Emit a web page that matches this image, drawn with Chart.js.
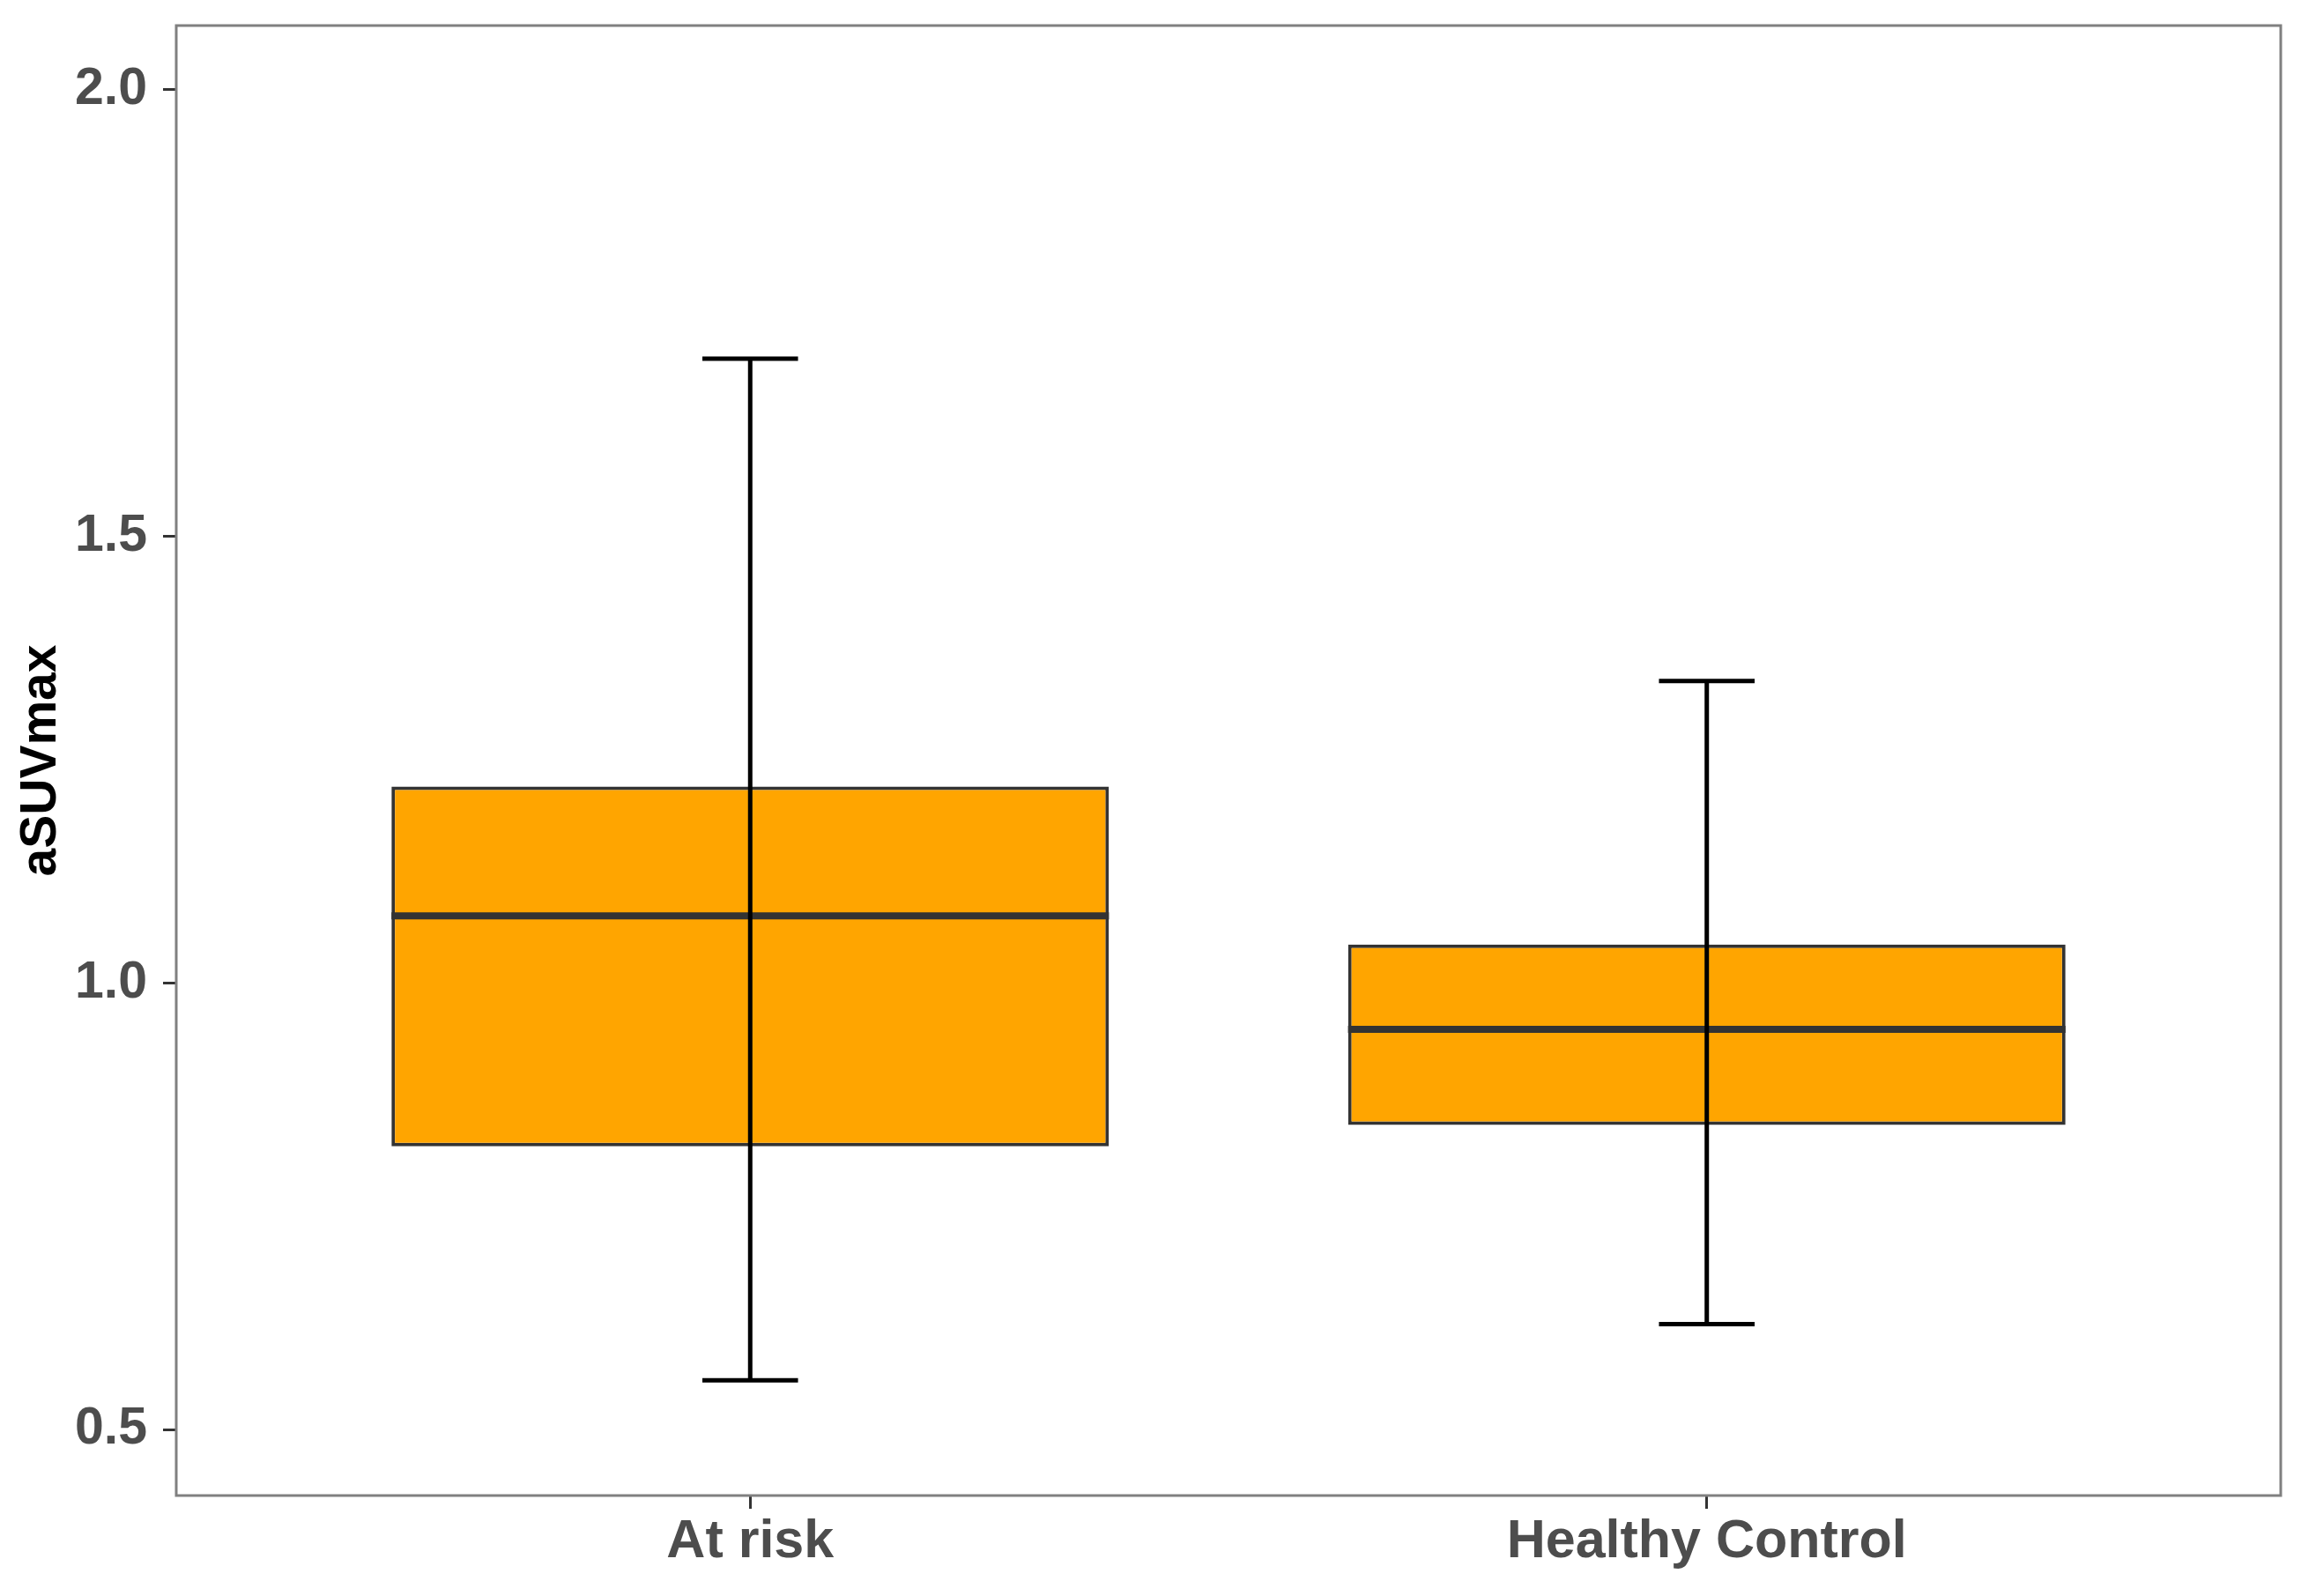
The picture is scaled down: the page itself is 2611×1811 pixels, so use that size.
<!DOCTYPE html>
<html>
<head>
<meta charset="utf-8">
<script src="https://cdn.jsdelivr.net/npm/chart.js@4/dist/chart.umd.min.js"></script>
<style>
  html, body { margin: 0; padding: 0; background: #ffffff; }
  #wrap { width: 2611px; height: 1811px; }
</style>
</head>
<body>
<div id="wrap"><canvas id="chart" width="2611" height="1811"></canvas></div>
<script>
// groups and box statistics
var groups = ['At risk', 'Healthy Control'];
var whiskerLow = [0.555, 0.618];
var q1 = [0.817, 0.841];
var median = [1.075, 0.948];
var q3 = [1.220, 1.043];
var whiskerHigh = [1.699, 1.338];
var yTicks = [0.5, 1.0, 1.5, 2.0];

var boxWidth = 0.75;   // in category units
var capWidth = 0.1;

// boxes as floating bars, one per group
var boxData = groups.map(function(g, i) {
  return { x: i + 1, y: [q1[i], q3[i]] };
});

// median lines + whiskers drawn with the chart's scales
var boxExtras = {
  id: 'boxExtras',
  afterDatasetsDraw: function(chart) {
    var ctx = chart.ctx;
    var xs = chart.scales.x, ys = chart.scales.y;
    ctx.save();
    ctx.lineCap = 'butt';
    groups.forEach(function(g, i) {
      var c = i + 1;
      // median
      ctx.strokeStyle = '#333333';
      ctx.lineWidth = 8;
      ctx.beginPath();
      ctx.moveTo(xs.getPixelForValue(c - boxWidth / 2), ys.getPixelForValue(median[i]));
      ctx.lineTo(xs.getPixelForValue(c + boxWidth / 2), ys.getPixelForValue(median[i]));
      ctx.stroke();
      // whisker
      ctx.strokeStyle = '#000000';
      ctx.lineWidth = 5;
      ctx.beginPath();
      ctx.moveTo(xs.getPixelForValue(c), ys.getPixelForValue(whiskerLow[i]));
      ctx.lineTo(xs.getPixelForValue(c), ys.getPixelForValue(whiskerHigh[i]));
      [whiskerLow[i], whiskerHigh[i]].forEach(function(v) {
        ctx.moveTo(xs.getPixelForValue(c - capWidth / 2), ys.getPixelForValue(v));
        ctx.lineTo(xs.getPixelForValue(c + capWidth / 2), ys.getPixelForValue(v));
      });
      ctx.stroke();
    });
    ctx.restore();
  }
};

// grey panel border
var panelBorder = {
  id: 'panelBorder',
  afterDraw: function(chart) {
    var a = chart.chartArea, ctx = chart.ctx;
    ctx.save();
    ctx.strokeStyle = '#808080';
    ctx.lineWidth = 3;
    ctx.strokeRect(a.left, a.top, a.right - a.left, a.bottom - a.top);
    ctx.restore();
  }
};

var ctx = document.getElementById('chart').getContext('2d');
new Chart(ctx, {
  type: 'bar',
  data: {
    datasets: [{
      data: boxData,
      backgroundColor: '#FFA500',
      borderColor: '#333333',
      borderWidth: 4,
      borderSkipped: false,
      barPercentage: boxWidth,
      categoryPercentage: 1
    }]
  },
  options: {
    responsive: false,
    animation: false,
    devicePixelRatio: 1,
    layout: { padding: { left: 0, top: 29, right: 23, bottom: 0 } },
    plugins: { legend: { display: false }, tooltip: { enabled: false } },
    scales: {
      x: {
        type: 'linear',
        min: 0.4,
        max: 2.6,
        offset: false,
        afterBuildTicks: function(scale) {
          scale.ticks = groups.map(function(g, i) { return { value: i + 1 }; });
        },
        afterFit: function(scale) {
          scale.height = 114;
          scale.paddingLeft = 0;
          scale.paddingRight = 0;
        },
        ticks: {
          autoSkip: false,
          padding: 2,
          color: '#4d4d4d',
          font: { family: 'Liberation Sans', size: 61, weight: 'bold' },
          callback: function(v) { return groups[v - 1]; }
        },
        grid: { offset: false, drawOnChartArea: false, drawTicks: true, tickLength: 15, tickColor: '#333333', tickWidth: 3 },
        border: { display: false }
      },
      y: {
        min: 0.426,
        max: 2.072,
        afterBuildTicks: function(scale) {
          scale.ticks = yTicks.map(function(v) { return { value: v }; });
        },
        afterFit: function(scale) {
          scale.width = 200;
          scale.paddingTop = 0;
          scale.paddingBottom = 0;
        },
        ticks: {
          padding: 18,
          color: '#4d4d4d',
          font: { family: 'Liberation Sans', size: 59, weight: 'bold' },
          callback: function(v) { return v.toFixed(1); }
        },
        grid: { drawOnChartArea: false, drawTicks: true, tickLength: 15, tickColor: '#333333', tickWidth: 3 },
        border: { display: false },
        title: {
          display: true,
          text: 'aSUVmax',
          color: '#000000',
          padding: { top: 13, bottom: 0 },
          font: { family: 'Liberation Sans', size: 57, weight: 'bold' }
        }
      }
    }
  },
  plugins: [boxExtras, panelBorder]
});
</script>
</body>
</html>
